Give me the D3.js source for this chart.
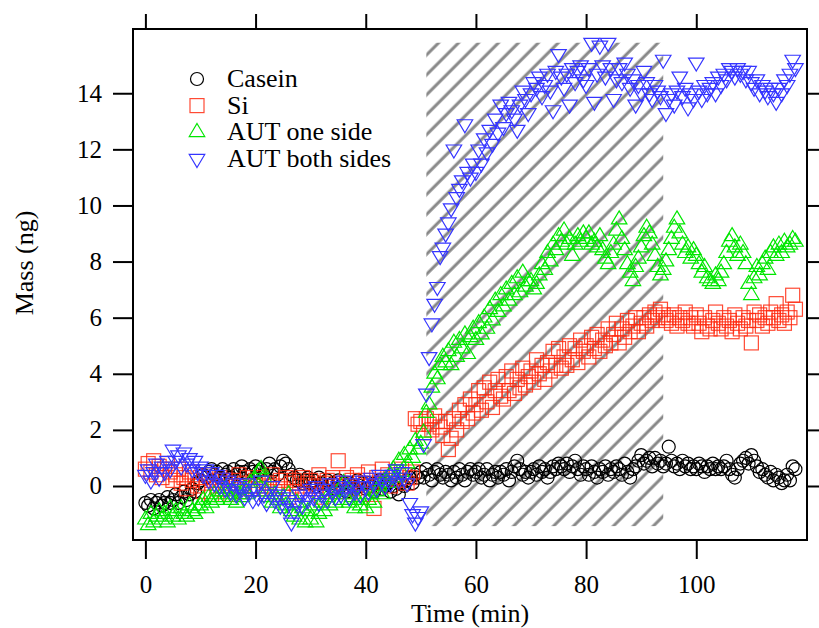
<!DOCTYPE html>
<html>
<head>
<meta charset="utf-8">
<script src="https://cdn.jsdelivr.net/npm/d3@7"></script>
<style>
  body { margin: 0; background: #fff; }
  svg { display: block; font-family: "Liberation Serif", "Times New Roman", serif; }
</style>
</head>
<body>
<svg id="chart" width="819" height="628"></svg>
<script>
// sampling: one point every half minute, starting at 0 min
const timeStep = 0.5;

const seriesNames = ["Casein", "Si", "AUT one side", "AUT both sides"];

const casein = [
  -0.6,-0.7,-0.5,-0.8,-0.6,-0.5,-0.7,-0.6,-0.4,-0.6,
  -0.5,-0.3,-0.6,-0.4,-0.2,-0.5,-0.3,-0.1,-0.2,0.1,
  0.2,0.4,0.3,0.5,0.6,0.4,0.5,0.3,0.6,0.4,
  0.5,0.3,0.6,0.4,0.5,0.7,0.5,0.4,0.6,0.5,
  0.7,0.5,0.6,0.4,0.6,0.8,0.5,0.6,0.4,0.7,
  0.9,0.8,0.6,0.4,0.3,0.2,0.4,0.1,0.2,0.3,
  0.1,0.2,0.0,0.3,0.1,-0.1,0.2,0.0,0.1,-0.1,
  0.2,0.0,0.1,-0.2,0.1,0.0,-0.1,0.2,0.0,0.1,
  -0.1,0.1,0.0,-0.2,0.1,0.2,-0.1,0.0,0.1,-0.2,
  0.0,-0.1,-0.3,0.1,0.0,0.2,0.3,0.1,0.4,0.3,
  0.5,0.3,0.6,0.4,0.2,0.5,0.6,0.4,0.3,0.5,
  0.4,0.2,0.5,0.3,0.6,0.4,0.2,0.5,0.6,0.4,
  0.5,0.6,0.3,0.4,0.6,0.2,0.4,0.5,0.3,0.5,
  0.4,0.6,0.2,0.5,0.7,0.9,0.6,0.4,0.5,0.3,
  0.5,0.6,0.4,0.7,0.5,0.6,0.3,0.5,0.7,0.6,
  0.8,0.7,0.6,0.8,0.5,0.7,0.9,0.6,0.4,0.7,
  0.6,0.4,0.7,0.5,0.3,0.6,0.5,0.7,0.4,0.6,
  0.5,0.7,0.6,0.4,0.8,0.5,0.3,0.6,0.7,0.9,
  1.1,0.8,0.9,1.0,0.7,1.0,0.8,0.9,0.7,0.8,
  1.4,0.9,0.7,0.8,0.6,0.9,0.7,0.8,0.6,0.7,
  0.6,0.8,0.7,0.5,0.7,0.6,0.8,0.6,0.7,0.6,
  0.7,0.9,0.6,0.4,0.3,0.6,0.8,0.9,1.0,0.8,
  1.1,0.9,0.7,0.5,0.6,0.4,0.3,0.5,0.2,0.4,
  0.3,0.1,0.2,0.4,0.2,0.7,0.6
];

const si = [
  0.6,0.8,0.5,0.9,0.4,0.7,0.3,0.6,0.8,0.5,
  0.2,0.4,0.6,0.1,0.3,-0.1,0.5,0.2,0.4,0.0,
  0.3,-0.2,0.1,0.4,-0.3,0.2,0.0,0.3,-0.1,0.2,
  0.1,-0.3,0.2,0.0,0.4,-0.2,0.1,0.3,-0.1,0.0,
  0.2,-0.1,0.3,0.0,-0.3,0.1,0.4,-0.2,0.0,0.2,
  -0.1,0.3,-0.4,0.1,0.2,-0.2,0.0,0.3,-0.3,0.1,
  0.2,-0.1,0.0,0.4,-0.4,0.1,0.2,-0.2,0.3,0.0,
  0.9,0.1,-0.2,0.3,0.0,0.2,-0.1,0.4,0.1,-0.3,
  0.2,0.5,0.0,-0.8,0.3,0.1,0.6,0.2,0.4,0.0,
  0.3,0.5,0.2,0.6,0.4,0.1,0.3,0.5,2.4,2.2,
  2.3,1.9,2.4,2.2,2.0,2.5,2.3,2.1,1.8,2.3,
  1.3,1.7,2.4,2.0,2.7,2.3,2.9,2.4,3.1,2.6,
  2.9,3.4,2.7,3.5,3.0,3.7,2.8,3.4,3.8,3.2,
  3.1,3.9,3.4,4.1,3.3,3.8,3.5,4.2,3.6,3.9,
  4.1,3.7,4.5,4.0,4.3,3.8,4.4,4.1,4.8,4.3,
  4.9,4.2,4.6,4.3,5.0,4.5,4.9,4.4,5.2,4.8,
  5.0,4.6,5.3,4.9,5.4,4.8,5.2,5.0,5.6,5.1,
  5.4,5.8,5.1,5.6,5.3,5.9,5.5,5.7,6.0,5.5,
  5.8,6.0,5.7,6.1,5.9,6.2,6.0,6.3,6.1,5.9,
  6.0,5.8,6.1,5.7,6.0,5.9,6.2,5.8,6.0,5.7,
  6.1,5.8,5.5,6.0,5.7,5.6,5.9,6.2,5.8,5.6,
  6.0,5.7,5.9,5.5,6.1,5.8,5.6,6.0,5.7,5.9,
  5.1,6.2,5.9,6.1,5.7,6.0,5.8,6.2,6.0,6.5,
  5.9,6.1,5.8,6.2,6.0,6.8,6.3
];

const autOneSide = [
  -1.2,-1.4,-1.0,-1.3,-1.1,-0.9,-1.2,-1.0,-1.3,-0.8,
  -1.1,-0.9,-1.2,-0.8,-1.0,-1.1,-0.7,-0.9,-1.0,-0.8,
  -0.7,-0.5,-0.8,-0.4,-0.6,-0.3,-0.5,-0.2,-0.4,-0.1,
  -0.3,-0.5,-0.2,-0.6,-0.3,-0.4,-0.1,-0.3,0.1,-0.2,
  0.2,0.5,0.6,0.3,-0.2,-0.4,-0.6,-0.3,-0.5,-0.8,
  -0.4,-0.7,-0.3,-0.9,-1.1,-0.6,-1.2,-0.8,-1.3,-0.9,
  -1.2,-0.7,-1.3,-1.0,-0.6,-0.9,-0.4,-0.7,-0.3,-0.6,
  -0.2,-0.5,0.1,-0.3,-0.6,-0.4,-0.8,-0.5,-0.7,-0.3,
  -0.8,-0.5,-0.3,-0.6,-0.2,0.0,-0.3,0.2,0.1,0.4,
  0.6,0.3,0.9,0.5,1.1,0.8,1.3,1.0,1.6,1.3,
  1.5,1.9,2.6,2.9,3.5,4.0,3.8,4.3,4.6,4.4,
  4.8,4.3,5.1,4.6,5.2,4.9,5.4,4.7,5.3,5.6,
  5.2,5.8,5.4,6.0,5.6,6.3,5.9,6.6,6.2,6.8,
  6.4,7.0,6.6,7.2,6.8,7.4,6.9,7.6,7.1,7.3,
  7.3,7.0,7.2,7.5,7.9,7.7,8.3,8.0,8.6,8.4,
  8.9,8.7,9.1,8.6,8.8,8.2,8.6,8.9,8.7,9.0,
  8.8,9.0,8.6,8.7,8.5,8.9,8.4,8.1,7.9,8.3,
  8.6,9.1,9.5,8.8,8.4,7.9,7.6,7.3,7.8,8.1,
  8.5,8.9,9.2,9.0,8.6,8.2,7.8,7.5,7.7,8.0,
  8.4,8.8,9.2,9.5,9.0,8.6,8.3,8.5,8.1,8.4,
  8.2,7.9,7.6,7.8,7.4,7.3,7.2,7.5,7.3,7.6,
  7.9,8.3,8.7,8.9,8.5,8.2,8.6,8.3,7.9,7.2,
  6.8,7.4,7.8,7.5,7.9,8.1,7.7,8.3,8.5,8.2,
  8.6,8.3,8.7,8.5,8.6,8.8,8.7
];

const autBothSides = [
  0.4,0.6,0.2,0.5,0.8,0.3,0.7,0.5,0.9,0.6,
  1.3,0.9,1.1,0.7,1.2,0.8,1.0,0.6,0.9,0.5,
  0.7,0.4,0.6,0.2,0.5,0.1,0.4,0.0,0.3,-0.1,
  0.2,-0.2,0.1,-0.3,0.0,-0.1,-0.4,0.1,-0.2,-0.5,
  -0.1,-0.4,0.2,-0.3,-0.6,-0.2,0.0,-0.5,-0.3,-0.7,
  -0.4,-0.8,-0.5,-1.3,-0.9,-0.6,-0.3,-0.7,-0.2,-0.5,
  -0.1,-0.4,0.0,-0.6,-0.3,-0.1,-0.5,0.1,-0.2,-0.4,
  0.0,-0.3,0.2,-0.1,-0.4,0.1,-0.2,0.0,-0.3,0.2,
  0.0,-0.2,0.3,0.1,-0.1,0.4,0.2,0.0,0.3,0.1,
  0.4,0.6,0.2,0.5,0.3,0.1,-0.6,-1.0,-1.3,-1.1,
  -0.9,1.5,3.3,4.6,5.8,6.5,7.1,8.2,8.5,9.0,
  9.4,9.9,12.0,10.3,10.6,10.9,12.9,11.2,11.0,11.5,
  11.2,12.0,11.5,12.4,11.9,12.7,12.2,13.1,12.6,13.6,
  12.8,13.3,13.7,13.4,13.1,12.7,13.6,14.1,13.8,13.3,
  14.0,14.4,14.2,14.6,13.9,14.3,14.7,14.1,13.4,14.8,
  15.4,14.6,14.2,14.7,13.6,14.9,14.4,14.8,15.0,14.5,
  14.3,14.9,15.8,13.7,14.7,15.7,15.0,14.6,15.8,14.9,
  13.8,14.5,14.9,14.4,15.1,14.7,14.2,14.5,13.6,14.3,
  14.0,14.8,14.4,14.0,13.8,14.3,14.1,13.9,15.2,13.3,
  13.8,14.0,13.6,14.1,14.6,13.9,14.2,13.5,14.0,13.8,
  15.1,14.1,13.8,14.3,14.0,14.2,14.4,14.0,14.6,14.3,
  14.7,14.5,14.9,14.8,14.6,14.9,14.7,14.8,14.5,14.8,
  14.4,14.2,14.5,14.0,14.3,14.1,13.9,14.2,14.0,13.7,
  14.2,14.0,14.5,14.3,14.7,15.2,14.9
];

const xTicks = [0, 20, 40, 60, 80, 100];
const yTicks = [0, 2, 4, 6, 8, 10, 12, 14];

// hatched injection window (min, ng)
const shadeStart = 51, shadeEnd = 94, shadeTop = 15.8, shadeBottom = -1.43;

const svg = d3.select("#chart");
const plotLeft = 133, plotRight = 807, plotTop = 29, plotBottom = 540;
const serif = '"Liberation Serif", "Times New Roman", serif';

const x = d3.scaleLinear().domain([-2.25, 120.1]).range([plotLeft, plotRight]);
const y = d3.scaleLinear().domain([-1.925, 16.29]).range([plotBottom, plotTop]);

// hatch pattern
const defs = svg.append("defs");
const pat = defs.append("pattern")
  .attr("id", "hatch")
  .attr("patternUnits", "userSpaceOnUse")
  .attr("width", 14.1)
  .attr("height", 14.1)
  .attr("patternTransform", "rotate(45)");
pat.append("line")
  .attr("x1", 2).attr("y1", -2).attr("x2", 2).attr("y2", 20)
  .attr("stroke", "#888").attr("stroke-width", 3);

svg.append("rect")
  .attr("x", x(shadeStart))
  .attr("y", y(shadeTop))
  .attr("width", x(shadeEnd) - x(shadeStart))
  .attr("height", y(shadeBottom) - y(shadeTop))
  .attr("fill", "url(#hatch)");

// markers
function triPath(w, h, down) {
  const s = down ? -1 : 1;
  return `M0,${-s * h * 2 / 3}L${w / 2},${s * h / 3}L${-w / 2},${s * h / 3}Z`;
}

const styles = [
  { kind: "circle", color: "#000000", opacity: 1 },
  { kind: "square", color: "#ff2a10", opacity: 0.85 },
  { kind: "up", color: "#00e600", opacity: 1 },
  { kind: "down", color: "#3535ff", opacity: 1 }
];

function drawMarker(g, kind) {
  if (kind === "circle") {
    g.append("circle").attr("r", 6.5);
  } else if (kind === "square") {
    g.append("rect").attr("x", -7).attr("y", -7).attr("width", 14).attr("height", 14);
  } else {
    g.append("path").attr("d", triPath(15.5, 13, kind === "down"));
  }
}

const allSeries = [casein, si, autOneSide, autBothSides];

allSeries.forEach((vals, i) => {
  const st = styles[i];
  const pts = vals.map((v, k) => ({ t: k * timeStep, v: v }));
  const g = svg.append("g")
    .attr("fill", "none")
    .attr("stroke", st.color)
    .attr("stroke-width", 1.2)
    .attr("stroke-opacity", st.opacity);
  g.selectAll("g.pt")
    .data(pts)
    .enter().append("g")
    .attr("class", "pt")
    .attr("transform", d => `translate(${x(d.t)},${y(d.v)})`)
    .each(function() { drawMarker(d3.select(this), st.kind); });
});

// frame
svg.append("rect")
  .attr("x", plotLeft).attr("y", plotTop)
  .attr("width", plotRight - plotLeft).attr("height", plotBottom - plotTop)
  .attr("fill", "none").attr("stroke", "#000").attr("stroke-width", 2);

// axes
const axisBottom = svg.append("g")
  .attr("transform", `translate(0,${plotBottom})`)
  .call(d3.axisBottom(x).tickValues(xTicks).tickSize(19).tickPadding(16).tickSizeOuter(0));
const axisTop = svg.append("g")
  .attr("transform", `translate(0,${plotTop})`)
  .call(d3.axisTop(x).tickValues(xTicks).tickSize(15).tickFormat("").tickSizeOuter(0));
const axisLeft = svg.append("g")
  .attr("transform", `translate(${plotLeft},0)`)
  .call(d3.axisLeft(y).tickValues(yTicks).tickSize(20).tickPadding(11).tickSizeOuter(0));
const axisRight = svg.append("g")
  .attr("transform", `translate(${plotRight},0)`)
  .call(d3.axisRight(y).tickValues(yTicks).tickSize(15).tickFormat("").tickSizeOuter(0));

[axisBottom, axisTop, axisLeft, axisRight].forEach(a => {
  a.attr("font-family", null);
  a.select(".domain").remove();
  a.selectAll(".tick line").attr("stroke", "#000").attr("stroke-width", 2);
  a.selectAll(".tick text")
    .attr("fill", "#000")
    .style("font-family", serif)
    .style("font-size", "25px");
});

// axis titles
svg.append("text")
  .attr("x", (plotLeft + plotRight) / 2)
  .attr("y", 622)
  .attr("text-anchor", "middle")
  .style("font-family", serif)
  .style("font-size", "26px")
  .text("Time (min)");

svg.append("text")
  .attr("transform", "translate(33,263) rotate(-90)")
  .attr("text-anchor", "middle")
  .style("font-family", serif)
  .style("font-size", "26px")
  .text("Mass (ng)");

// legend
const legend = svg.append("g").attr("transform", "translate(197,79)");
seriesNames.forEach((name, i) => {
  const st = styles[i];
  const row = legend.append("g").attr("transform", `translate(0,${i * 26.6})`);
  const m = row.append("g")
    .attr("fill", "none")
    .attr("stroke", st.color)
    .attr("stroke-width", 1.2)
    .attr("stroke-opacity", st.opacity);
  drawMarker(m, st.kind);
  row.append("text")
    .attr("x", 30)
    .attr("y", 8)
    .style("font-family", serif)
    .style("font-size", "26px")
    .text(name);
});
</script>
</body>
</html>
